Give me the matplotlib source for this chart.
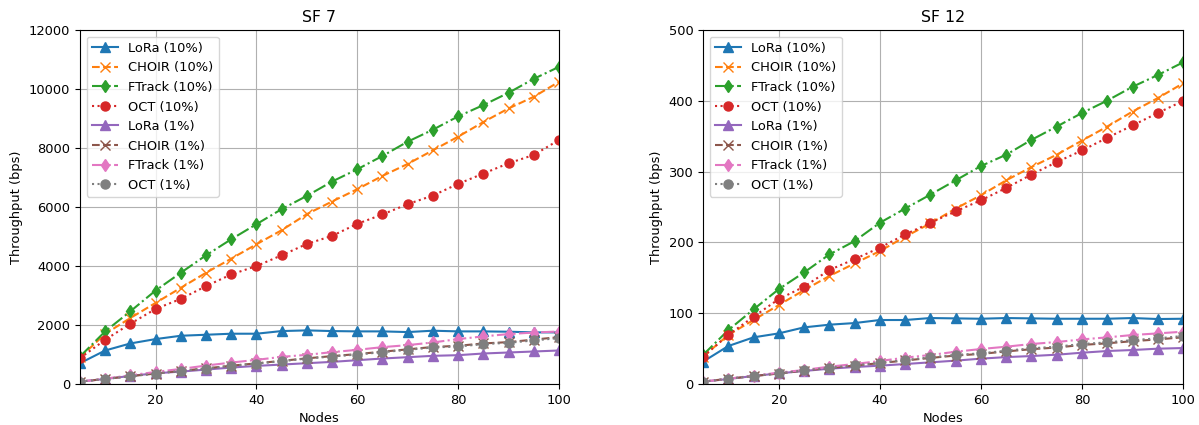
import matplotlib
matplotlib.use('Agg')
import matplotlib.pyplot as plt
import numpy as np

nodes = list(range(5, 101, 5))

# SF 7
sf7_lora10 = [705, 1136, 1375, 1523, 1636, 1670, 1705, 1705, 1795, 1818,
              1795, 1784, 1784, 1761, 1807, 1784, 1784, 1773, 1750, 1750]
sf7_choir10 = [900, 1700, 2239, 2750, 3261, 3773, 4250, 4739, 5216, 5761,
               6189, 6607, 7058, 7463, 7926, 8388, 8884, 9346, 9741, 10248]
sf7_ftrack10 = [930, 1784, 2466, 3170, 3773, 4364, 4909, 5420, 5930, 6381,
                6866, 7283, 7734, 8219, 8625, 9076, 9459, 9876, 10350, 10755]
sf7_oct10 = [875, 1500, 2045, 2545, 2886, 3318, 3716, 4000, 4364, 4750,
             5023, 5432, 5750, 6100, 6392, 6787, 7136, 7486, 7768, 8275]
sf7_lora1 = [80, 170, 273, 364, 420, 489, 557, 614, 659, 705,
             750, 807, 864, 909, 955, 977, 1034, 1068, 1102, 1136]
sf7_choir1 = [80, 172, 265, 355, 447, 530, 620, 700, 785, 870,
              945, 1015, 1095, 1175, 1255, 1295, 1375, 1420, 1505, 1590]
sf7_ftrack1 = [80, 182, 295, 409, 511, 625, 727, 818, 920, 989,
               1080, 1159, 1250, 1318, 1409, 1523, 1614, 1693, 1745, 1780]
sf7_oct1 = [80, 170, 261, 352, 443, 523, 614, 693, 773, 864,
            932, 1000, 1080, 1159, 1239, 1273, 1352, 1398, 1477, 1557]

# SF 12
sf12_lora10 = [31.5, 53.6, 65.9, 71.5, 80, 83.8, 86.1, 90.4, 90.4, 93.2,
               92.7, 92.2, 93.2, 92.7, 92.2, 92.2, 92.2, 93.2, 91.8, 92.2]
sf12_choir10 = [38.6, 69.2, 90.4, 111.5, 132.7, 152.5, 170.4, 187.8, 208, 227,
                247.9, 266.7, 287.8, 306.6, 324, 344, 363.8, 385, 404, 424.9]
sf12_ftrack10 = [41, 76, 105.4, 134, 157.6, 183, 201.9, 227.8, 247.9, 267.6,
                 287.8, 308, 324, 345, 363.8, 383, 400.5, 420, 436.6, 454.5]
sf12_oct10 = [38.6, 69.2, 95, 120, 137.4, 161, 176.5, 192.5, 211.3, 227.8,
              244, 259.6, 277, 296, 313.6, 330, 348, 365.3, 383, 400]
sf12_lora1 = [3.3, 7, 11.3, 15, 18.4, 21.6, 24, 25.9, 28.2, 30.6,
              33, 35.8, 38, 39.5, 41.4, 44.2, 46.6, 48, 49.9, 50.8]
sf12_choir1 = [3.3, 7.4, 11.2, 14.8, 19, 22.6, 26, 29.5, 33.2, 36.8,
               40.2, 42.5, 46, 49.2, 51.5, 55.2, 57.5, 60.5, 63, 66]
sf12_ftrack1 = [3.3, 7.5, 11.8, 16, 19.8, 24.5, 28.2, 32.5, 37.2, 41,
                45.6, 49.4, 52.7, 56.5, 59.3, 63, 65.9, 69.2, 71.5, 73.9]
sf12_oct1 = [3.3, 7.5, 11.3, 15, 19.3, 23, 26.4, 30, 33.9, 37.6,
             41, 43.3, 47, 50.4, 52.7, 56.5, 58.8, 62, 64.5, 67.8]

labels = ['LoRa (10%)', 'CHOIR (10%)', 'FTrack (10%)', 'OCT (10%)',
          'LoRa (1%)', 'CHOIR (1%)', 'FTrack (1%)', 'OCT (1%)']
styles = [('-', '^'), ('--', 'x'), ('-.', 'd'), (':', 'o')] * 2
colors = ['tab:blue', 'tab:orange', 'tab:green', 'tab:red',
          'tab:purple', 'tab:brown', 'tab:pink', 'tab:gray']

plt.rcParams['font.size'] = 9.4
plt.rcParams['axes.titlesize'] = 11.3

fig = plt.figure(figsize=(11.99, 4.25), dpi=100)
ax1 = fig.add_axes([0.0667, 0.0965, 0.3995, 0.8325])
ax2 = fig.add_axes([0.5863, 0.0965, 0.4004, 0.8325])

panels = [
    (ax1, 'SF 7', [sf7_lora10, sf7_choir10, sf7_ftrack10, sf7_oct10,
                   sf7_lora1, sf7_choir1, sf7_ftrack1, sf7_oct1], 12000),
    (ax2, 'SF 12', [sf12_lora10, sf12_choir10, sf12_ftrack10, sf12_oct10,
                    sf12_lora1, sf12_choir1, sf12_ftrack1, sf12_oct1], 500),
]

for ax, title, series, ymax in panels:
    for vals, lab, (ls, mk), c in zip(series, labels, styles, colors):
        ax.plot(nodes, vals, linestyle=ls, marker=mk, color=c, label=lab,
                linewidth=1.5, markersize=6.5)
    ax.set_title(title)
    ax.set_xlabel('Nodes')
    ax.set_ylabel('Throughput (bps)')
    ax.set_xlim(5, 100)
    ax.set_ylim(0, ymax)
    ax.set_xticks([20, 40, 60, 80, 100])
    ax.grid(True)
    ax.legend(loc='upper left')

fig.savefig('out.png', dpi=100)
